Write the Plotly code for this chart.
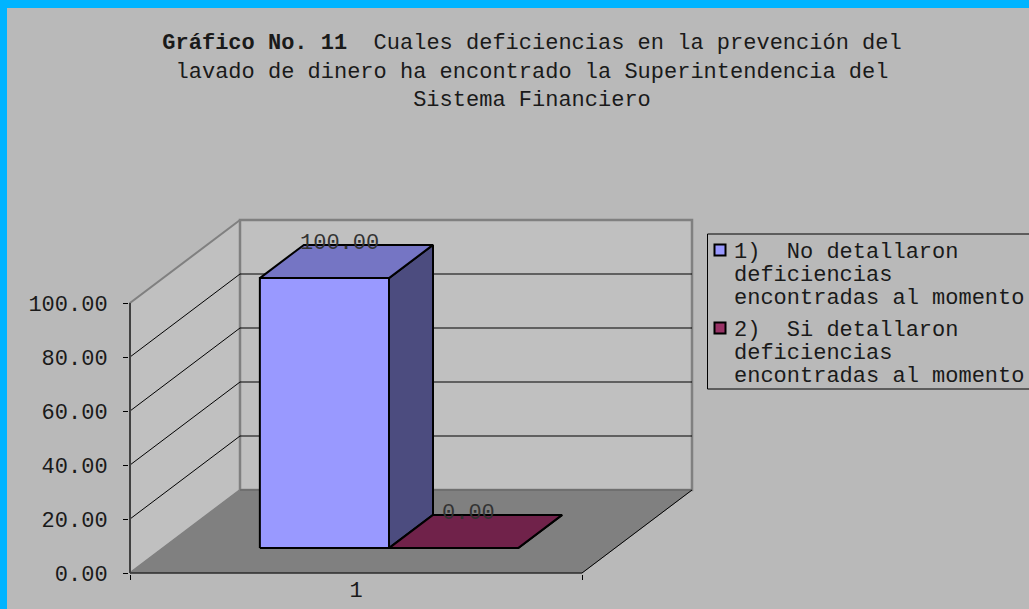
import plotly.graph_objects as go

# ---- data ----
categories = ["1"]
series_names = [
    "1)\u00a0\u00a0No detallaron|deficiencias|encontradas al momento",
    "2)\u00a0\u00a0Si detallaron|deficiencias|encontradas al momento",
]
series_values = [100.00, 0.00]
value_ticks = [0, 20, 40, 60, 80, 100]

# ---- styling ----
FONT = "Liberation Mono, Courier New, monospace"
BG = "#B9B9B9"
WALL = "#C0C0C0"
FLOOR = "#808080"
EDGE = "#808080"
front_colors = ["#9999FF", "#993366"]
top_colors = ["#7575C4", "#70224A"]
side_colors = ["#4C4C7F", "#4A1630"]

# oblique projection of the 3-D box (x in screen px units, y in value units)
PX_PER_UNIT = 2.7
CAT_W = 452.0          # width of the category band on the front edge
DEPTH_DX = 110.0       # horizontal shift of the back wall
DEPTH_DY = 83.0 / PX_PER_UNIT  # vertical shift of the back wall (value units)
WALL_TOP = max(value_ticks)
GAP_WIDTH = 1.5        # gap between clusters, as a fraction of bar width
GAP_DEPTH = 1.5


def proj(u, d, v):
    return u * CAT_W + d * DEPTH_DX, v + d * DEPTH_DY


def poly(points, fill, line_color, line_width):
    xs, ys = zip(*[proj(*p) for p in points])
    return go.Scatter(
        x=list(xs) + [xs[0]], y=list(ys) + [ys[0]], mode="lines",
        fill="toself", fillcolor=fill,
        line=dict(color=line_color, width=line_width),
        hoverinfo="skip", showlegend=False,
    )


def seg(p0, p1, color, width):
    x0, y0 = proj(*p0)
    x1, y1 = proj(*p1)
    return go.Scatter(x=[x0, x1], y=[y0, y1], mode="lines",
                      line=dict(color=color, width=width),
                      hoverinfo="skip", showlegend=False)


fig = go.Figure()

# walls and floor
fig.add_trace(poly([(0, 0, 0), (0, 1, 0), (0, 1, WALL_TOP), (0, 0, WALL_TOP)], WALL, EDGE, 2))
fig.add_trace(poly([(0, 1, 0), (1, 1, 0), (1, 1, WALL_TOP), (0, 1, WALL_TOP)], WALL, EDGE, 2.5))
for v in value_ticks[1:-1]:
    fig.add_trace(seg((0, 0, v), (0, 1, v), "black", 1))
    fig.add_trace(seg((0, 1, v), (1, 1, v), "black", 1))
fig.add_trace(poly([(0, 0, 0), (1, 0, 0), (1, 1, 0), (0, 1, 0)], FLOOR, FLOOR, 1))
fig.add_trace(seg((0, 1, 0), (1, 1, 0), "#6A6A6A", 1.5))
fig.add_trace(seg((0, 0, 0), (1, 0, 0), "black", 1.2))
fig.add_trace(seg((1, 0, 0), (1, 1, 0), "black", 1))
fig.add_trace(seg((0, 0, 0), (0, 0, WALL_TOP), EDGE, 2))
fig.add_trace(seg((0, 0, 0), (0, 0, WALL_TOP), "black", 1))

# clustered 3-D columns
n = len(series_values)
band = n + GAP_WIDTH
d0 = (GAP_DEPTH / 2) / (1 + GAP_DEPTH)
d1 = 1 - d0
annotations = []
for i, v in enumerate(series_values):
    u0 = (GAP_WIDTH / 2 + i) / band
    u1 = (GAP_WIDTH / 2 + i + 1) / band
    fig.add_trace(poly([(u1, d0, 0), (u1, d1, 0), (u1, d1, v), (u1, d0, v)], side_colors[i], "black", 2))
    fig.add_trace(poly([(u0, d0, v), (u1, d0, v), (u1, d1, v), (u0, d1, v)], top_colors[i], "black", 2))
    fig.add_trace(poly([(u0, d0, 0), (u1, d0, 0), (u1, d0, v), (u0, d0, v)], front_colors[i], "black", 2))
    lx, ly = proj((u0 + u1) / 2, 0.5, v)
    annotations.append(dict(
        x=lx, y=ly, xref="x", yref="y", text=f"{v:.2f}", showarrow=False,
        xshift=-7, yshift=18, font=dict(family=FONT, size=22, color="#333333"),
    ))

# ---- layout geometry (pixels) ----
W, H = 1029, 609
ML, MR, MT, MB = 129, 329, 210, 35
PW, PH = W - ML - MR, H - MT - MB


def px_x(px):
    return (px - ML) / PW


def px_y(py):
    return (H - MB - py) / PH


y_lo = -1 / PX_PER_UNIT
y_hi = y_lo + PH / PX_PER_UNIT

shapes = [
    # chart area inside the cyan frame
    dict(type="rect", xref="paper", yref="paper", layer="below",
         x0=px_x(7), x1=px_x(W + 20), y0=px_y(H + 20), y1=px_y(8),
         fillcolor=BG, line=dict(width=0)),
    # legend box
    dict(type="rect", xref="paper", yref="paper",
         x0=px_x(707.5), x1=px_x(W + 20), y0=px_y(389), y1=px_y(234),
         fillcolor="rgba(0,0,0,0)", line=dict(color="black", width=1)),
]

legend_rows = [(250, 0), (328, 1)]
for top_y, idx in legend_rows:
    shapes.append(dict(type="rect", xref="paper", yref="paper",
                       x0=px_x(714.5), x1=px_x(725.5), y0=px_y(top_y + 5.5), y1=px_y(top_y - 5.5),
                       fillcolor=front_colors[idx], line=dict(color="black", width=2)))
    for k, line in enumerate(series_names[idx].split("|")):
        annotations.append(dict(
            x=px_x(732), y=px_y(top_y + 2 + k * 23), xref="paper", yref="paper",
            text=line, showarrow=False, xanchor="left", yanchor="middle",
            font=dict(family=FONT, size=22, color="#1a1a1a"),
        ))

title_text = ("<b>Gráfico No. 11</b>\u00a0\u00a0Cuales deficiencias en la prevención del<br>"
              "lavado de dinero ha encontrado la Superintendencia del<br>"
              "Sistema Financiero")

fig.update_layout(
    width=W, height=H,
    margin=dict(l=ML, r=MR, t=MT, b=MB, autoexpand=False),
    paper_bgcolor="#00B4FF",
    plot_bgcolor="rgba(0,0,0,0)",
    showlegend=False,
    title=dict(text=title_text, x=532 / W, xanchor="center", xref="container",
               y=1 - 49 / H, yanchor="top", yref="container",
               font=dict(family=FONT, size=22, color="#1a1a1a")),
    xaxis=dict(range=[-1, PW - 1], showgrid=False, zeroline=False, showline=False,
               tickmode="array", tickvals=[CAT_W / 2], ticktext=categories, ticks="",
               minor=dict(tickmode="array", tickvals=[0, CAT_W], ticks="outside",
                          ticklen=5, tickcolor="black", tickwidth=1, showgrid=False),
               tickfont=dict(family=FONT, size=22, color="#1a1a1a"),
               automargin=False, fixedrange=True),
    yaxis=dict(range=[y_lo, y_hi], showgrid=False, zeroline=False, showline=False,
               tickmode="array", tickvals=value_ticks, tickformat=".2f",
               ticks="outside", ticklen=5, tickcolor="black", tickwidth=1,
               ticklabelstandoff=11,
               tickfont=dict(family=FONT, size=22, color="#1a1a1a"),
               automargin=False, fixedrange=True),
    shapes=shapes,
    annotations=annotations,
)

fig.write_html("out.html")
